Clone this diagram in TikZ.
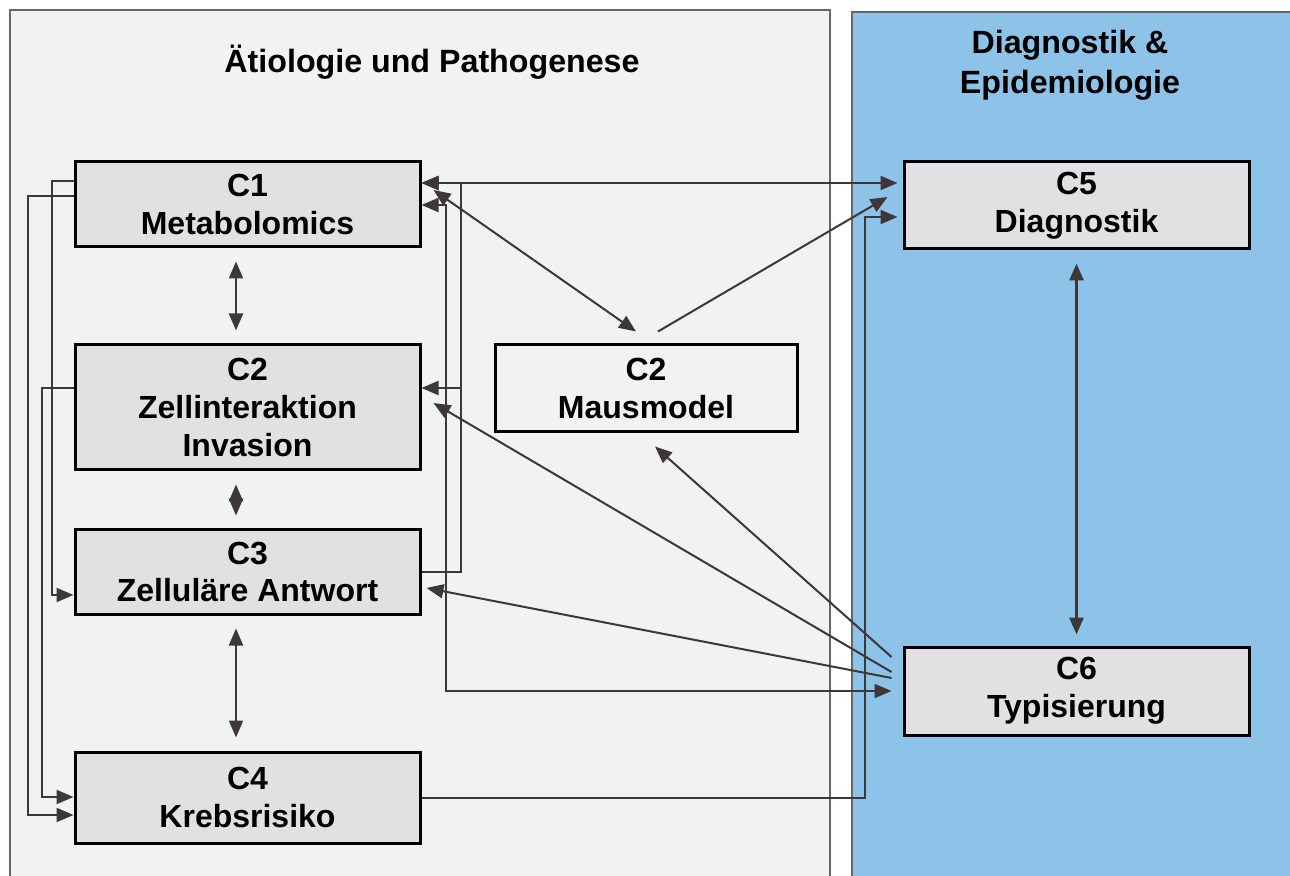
\documentclass[tikz,border=0pt]{standalone}
\usepackage{fontspec}
\setmainfont{Liberation Sans}
\usetikzlibrary{calc,arrows.meta}
\definecolor{panelgray}{HTML}{F1F2F2}
\definecolor{panelblue}{HTML}{8DC3E8}
\definecolor{framegray}{HTML}{6B6565}
\definecolor{boxgray}{HTML}{E1E1E3}
\definecolor{linegray}{HTML}{3D3737}
\tikzset{
  box/.style={draw=black,line width=1.5pt,fill=boxgray,minimum width=172.5pt,inner sep=0pt,align=center,font=\bfseries\fontsize{16}{18.8}\selectfont},
  mausbox/.style={box,fill=panelgray,minimum width=151pt},
  ttl/.style={align=center,font=\bfseries\fontsize{16.1}{20}\selectfont},
  con/.style={draw=linegray,line width=1pt,-{Triangle[length=8.5pt,width=7pt]}},
  dcon/.style={con,{Triangle[length=8.5pt,width=7pt]}-{Triangle[length=8.5pt,width=7pt]}}
}

\begin{document}
\begin{tikzpicture}[x=0.5pt,y=-0.5pt]
\useasboundingbox (0,0) rectangle (1290,876);
% panels
\fill[white] (0,0) rectangle (1290,876);
\fill[panelgray] (10,10) rectangle (830,876);
\draw[framegray,line width=1pt] (10,880) -- (10,10) -- (830,10) -- (830,880);
\fill[panelblue] (852,12) rectangle (1290,876);
\draw[framegray,line width=1pt] (852,880) -- (852,12) -- (1295,12);
\node[ttl] (ttlA) at (432,62) {Ätiologie und Pathogenese};
\node[ttl] (ttlB) at (1070,65) {Diagnostik \&\\Epidemiologie};
% boxes
\node[box,minimum height=42.5pt] (c1) at (247.5,204.5) {C1\\Metabolomics};
\node[box,minimum height=62.5pt] (c2) at (247.5,407.5) {C2\\Zellinteraktion\\Invasion};
\node[box,minimum height=42pt] (c3) at (247.5,572) {C3\\Zelluläre Antwort};
\node[box,minimum height=45.5pt] (c4) at (247.5,797.5) {C4\\Krebsrisiko};
\node[mausbox,minimum height=43.5pt] (maus) at (646,388.5) {C2\\Mausmodel};
\node[box,minimum height=43.5pt] (c5) at (1076.5,205.5) {C5\\Diagnostik};
\node[box,minimum height=44pt] (c6) at (1076.5,691) {C6\\Typisierung};
% left side
\draw[con] ($(c1.west)+(0,-23.5)$) -- ++(-22,0) |- ($(c3.west)+(0,23)$);
\draw[con] ($(c1.west)+(0,-8.5)$) -- ++(-46,0) |- ($(c4.west)+(0,17.5)$);
\draw[con] ($(c2.west)+(0,-19.5)$) -- ++(-32,0) |- ($(c4.west)+(0,-0.5)$);
% vertical arrows
\foreach \a/\b in {c1/c2,c2/c3,c3/c4}
  \draw[dcon] ($(\a.south)+(-11.5,13)$) -- ($(\b.north)+(-11.5,-13)$);
\draw[dcon,line width=1.5pt] ($(c5.south)+(0,13)$) -- ($(c6.north)+(0,-11)$);
% right side
\draw[con] (c3.east) -- ++(39,0) |- ($(c1.east)+(0,-21.5)$);
\draw[con] ($(c2.east)+(39,-19.5)$) -- ($(c2.east)+(0,-19.5)$);
\draw[dcon,shorten >=2.5pt] ($(c1.east)+(0,-21.5)$) -- ($(c5.west)+(0,-22.5)$);
\draw[dcon,shorten >=5.5pt] ($(c1.east)+(0,0.5)$) -- ++(24,0) |- (c6.west);
\draw[dcon] ($(c1.east)+(12,-14.5)$) -- ($(maus.north)+(-10,-12)$);
\draw[con] ($(maus.north)+(12,-12)$) -- ($(c5.west)+(-15,-8.5)$);
\draw[con,shorten >=2.5pt] (c4.east) -- ++(443,0) |- ($(c5.west)+(0,11.5)$);
% from C6
\draw[con] ($(c6.west)+(-11,-34)$) -- ($(maus.south)+(9,13)$);
\draw[con] ($(c6.west)+(-11,-19)$) -- ($(c2.east)+(12,-4.5)$);
\draw[con] ($(c6.west)+(-11,-13)$) -- ($(c3.east)+(5,16)$);
\end{tikzpicture}
\end{document}
